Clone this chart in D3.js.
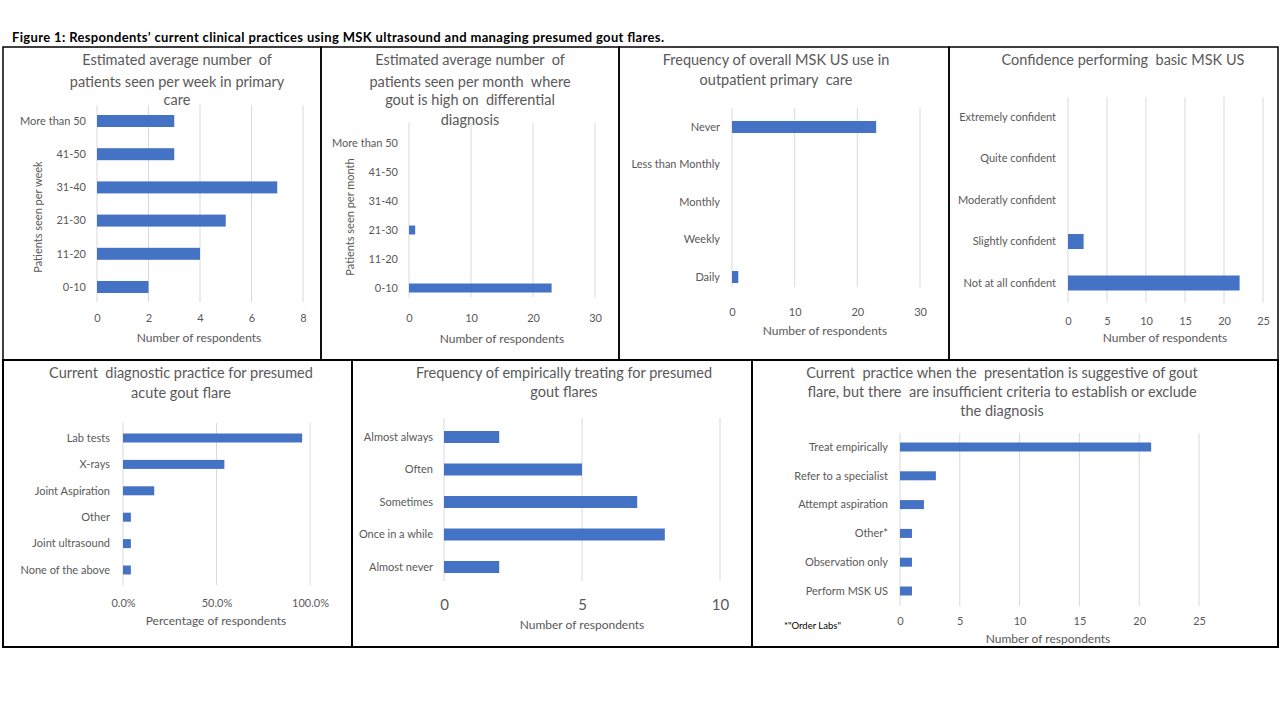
<!DOCTYPE html>
<html>
<head>
<meta charset="utf-8">
<script src="https://cdn.jsdelivr.net/npm/d3@7"></script>
<style>
  body { margin: 0; background: #fff; }
  svg { display: block; font-family: Lato, 'Open Sans', sans-serif; }
  .tick text { fill: #595959; }
</style>
</head>
<body>
<svg width="1280" height="720"></svg>
<script>
// chart data
const weekCats = ['More than 50', '41-50', '31-40', '21-30', '11-20', '0-10'];
const weekVals = [3, 3, 7, 5, 4, 2];

const monthCats = ['More than 50', '41-50', '31-40', '21-30', '11-20', '0-10'];
const monthVals = [0, 0, 0, 1, 0, 23];

const usUseCats = ['Never', 'Less than Monthly', 'Monthly', 'Weekly', 'Daily'];
const usUseVals = [23, 0, 0, 0, 1];

const confCats = ['Extremely confident', 'Quite confident', 'Moderatly confident', 'Slightly confident', 'Not at all confident'];
const confVals = [0, 0, 0, 2, 22];

const diagCats = ['Lab tests', 'X-rays', 'Joint Aspiration', 'Other', 'Joint ultrasound', 'None of the above'];
const diagVals = [95.8, 54.2, 16.7, 4.2, 4.2, 4.2];

const empCats = ['Almost always', 'Often', 'Sometimes', 'Once in a while', 'Almost never'];
const empVals = [2, 5, 7, 8, 2];

const practCats = ['Treat empirically', 'Refer to a specialist', 'Attempt aspiration', 'Other*', 'Observation only', 'Perform MSK US'];
const practVals = [21, 3, 2, 1, 1, 1];

const ticks8 = [0, 2, 4, 6, 8];
const ticks30 = [0, 10, 20, 30];
const ticks25 = [0, 5, 10, 15, 20, 25];
const ticksPct = [0, 50, 100];
const ticks10 = [0, 5, 10];

const svg = d3.select('svg');
const barColor = '#4472c4';
const textColor = '#595959';

svg.append('text')
    .attr('x', 12).attr('y', 42)
    .attr('font-weight', 'bold').attr('font-size', 13)
    .attr('textLength', 652)
    .attr('fill', '#000')
    .text('Figure 1: Respondents\u2019 current clinical practices using MSK ultrasound and managing presumed gout flares.');

// layout of each panel (box, plot area, text positions)
const panels = [
    { box: [3, 47, 318, 313], stroke: 1.5, title: ['Estimated average number  of', 'patients seen per week in primary', 'care'], titleX: 177, titleY: [60, 82, 100],
      cats: weekCats, vals: weekVals, ticks: ticks8, x0: 97, x1: 303, gTop: 105, gBot: 302, c0: 121, c1: 287, barH: 12,
      tickY: 318, tickSize: 11, labRight: 86, axisLabel: 'Number  of respondents', axisX: 199, axisY: 338,
      yLabel: 'Patients seen per week', yLabX: 38, yLabY: 217 },
    { box: [321, 47, 298, 313], stroke: 1.5, title: ['Estimated average number  of', 'patients seen per month  where', 'gout is high on  differential', 'diagnosis'], titleX: 470, titleY: [60, 82, 100, 120],
      cats: monthCats, vals: monthVals, ticks: ticks30, x0: 409, x1: 595, gTop: 123, gBot: 297, c0: 143, c1: 288, barH: 9,
      tickY: 318, tickSize: 11, labRight: 398, axisLabel: 'Number  of respondents', axisX: 502, axisY: 339,
      yLabel: 'Patients seen per month', yLabX: 350, yLabY: 217 },
    { box: [619, 47, 330, 313], stroke: 1.5, title: ['Frequency of overall MSK US use in', 'outpatient primary  care'], titleX: 776, titleY: [60, 80],
      cats: usUseCats, vals: usUseVals, ticks: ticks30, x0: 732, x1: 920, gTop: 108, gBot: 287, c0: 127, c1: 277, barH: 12,
      tickY: 312, tickSize: 11, labRight: 720, axisLabel: 'Number  of respondents', axisX: 825, axisY: 331 },
    { box: [949, 47, 329, 313], stroke: 1.5, title: ['Confidence performing  basic MSK US'], titleX: 1123, titleY: [60],
      cats: confCats, vals: confVals, ticks: ticks25, x0: 1068, x1: 1263, gTop: 97, gBot: 303, c0: 117, c1: 283, barH: 15,
      tickY: 321, tickSize: 11, labRight: 1056, axisLabel: 'Number  of respondents', axisX: 1165, axisY: 338 },
    { box: [3, 360, 349, 287], stroke: 2, title: ['Current  diagnostic practice for presumed', 'acute gout flare'], titleX: 181, titleY: [373, 393],
      cats: diagCats, vals: diagVals, ticks: ticksPct, fmt: d => d.toFixed(1) + '%', x0: 123, x1: 310, gTop: 423, gBot: 585, c0: 438, c1: 570, barH: 9,
      tickY: 603, tickSize: 11, labRight: 110, axisLabel: 'Percentage of respondents', axisX: 216, axisY: 621 },
    { box: [352, 360, 400, 287], stroke: 2, title: ['Frequency of empirically treating for presumed', 'gout flares'], titleX: 564, titleY: [373, 392],
      cats: empCats, vals: empVals, ticks: ticks10, x0: 444, x1: 720, gTop: 418, gBot: 581, c0: 437, c1: 567, barH: 12,
      tickY: 605, tickSize: 15, labRight: 433, axisLabel: 'Number  of respondents', axisX: 582, axisY: 625 },
    { box: [752, 360, 526, 287], stroke: 2, title: ['Current  practice when the  presentation is suggestive of gout', 'flare, but there  are insufficient criteria to establish or exclude', 'the diagnosis'], titleX: 1002, titleY: [373, 392, 411],
      cats: practCats, vals: practVals, ticks: ticks25, x0: 900, x1: 1199, gTop: 433, gBot: 606, c0: 447, c1: 591, barH: 9,
      tickY: 621, tickSize: 11, labRight: 888, axisLabel: 'Number  of respondents', axisX: 1048, axisY: 639 }
];

panels.forEach((p) => {
    const g = svg.append('g');
    const x = d3.scaleLinear()
        .domain([p.ticks[0], p.ticks[p.ticks.length - 1]])
        .range([p.x0, p.x1]);
    const y = d3.scalePoint().domain(p.cats).range([p.c0, p.c1]);

    // gridlines
    g.selectAll('line.grid')
        .data(p.ticks)
        .enter()
        .append('line')
        .attr('x1', (d) => x(d)).attr('x2', (d) => x(d))
        .attr('y1', p.gTop).attr('y2', p.gBot)
        .attr('stroke', '#d9d9d9').attr('stroke-width', 1);

    // bars
    g.selectAll('rect.bar')
        .data(p.cats.map((c, i) => ({ cat: c, val: p.vals[i] })))
        .enter()
        .append('rect')
        .attr('x', x(0))
        .attr('y', (d) => y(d.cat) - p.barH / 2)
        .attr('width', (d) => x(d.val) - x(0))
        .attr('height', p.barH)
        .attr('fill', barColor);

    // category labels
    g.selectAll('text.cat')
        .data(p.cats)
        .enter()
        .append('text')
        .attr('x', p.labRight)
        .attr('y', (d) => y(d))
        .attr('dy', '0.35em')
        .attr('text-anchor', 'end')
        .attr('font-size', 11)
        .attr('fill', textColor)
        .text((d) => d);

    // tick labels
    const axis = d3.axisBottom(x).tickValues(p.ticks).tickSize(0).tickPadding(0)
        .tickFormat(p.fmt || d3.format('d'));
    const ax = g.append('g').attr('transform', `translate(0,${p.tickY})`).call(axis);
    ax.select('.domain').remove();
    ax.selectAll('text')
        .attr('dy', '0.35em')
        .attr('font-size', p.tickSize)
        .attr('font-family', 'Lato, sans-serif');

    g.append('text')
        .attr('x', p.axisX).attr('y', p.axisY)
        .attr('dy', '0.35em')
        .attr('text-anchor', 'middle')
        .attr('font-size', 12)
        .attr('fill', textColor)
        .text(p.axisLabel);

    if (p.yLabel) {
        g.append('text')
            .attr('transform', `translate(${p.yLabX},${p.yLabY}) rotate(-90)`)
            .attr('dy', '0.35em')
            .attr('text-anchor', 'middle')
            .attr('font-size', 11)
            .attr('fill', textColor)
            .text(p.yLabel);
    }

    g.selectAll('text.title')
        .data(p.title)
        .enter()
        .append('text')
        .attr('x', p.titleX)
        .attr('y', (d, i) => p.titleY[i])
        .attr('dy', '0.35em')
        .attr('text-anchor', 'middle')
        .attr('font-size', 14.5)
        .attr('fill', textColor)
        .style('white-space', 'pre')
        .text((d) => d);

    g.append('rect')
        .attr('x', p.box[0]).attr('y', p.box[1])
        .attr('width', p.box[2]).attr('height', p.box[3])
        .attr('fill', 'none')
        .attr('stroke', '#000')
        .attr('stroke-width', p.stroke);
});

svg.append('text')
    .attr('x', 784).attr('y', 626)
    .attr('dy', '0.35em')
    .attr('font-size', 9.5)
    .attr('fill', '#000')
    .text('*"Order Labs"');
</script>
</body>
</html>
